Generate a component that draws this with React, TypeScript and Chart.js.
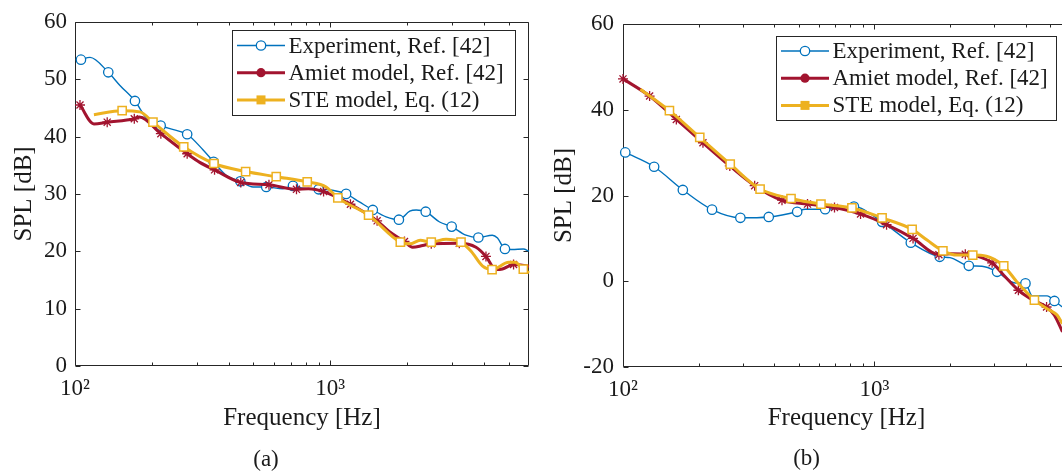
import React, { useEffect, useRef } from 'react';
import { Chart, registerables } from 'chart.js';

Chart.register(...registerables);

// ---- shared axis definitions ----
const xMin = 100;
const xMax = 6000;
const xMajorTicks = [100, 1000];
const xMajorLabels = ['10²', '10³'];
const xMinorTicks = [200, 300, 400, 500, 600, 700, 800, 900, 2000, 3000, 4000, 5000];

const seriesNames = ['Experiment, Ref. [42]', 'Amiet model, Ref. [42]', 'STE model, Eq. (12)'];
const xTitle = 'Frequency [Hz]';
const yTitle = 'SPL [dB]';
const captions = ['(a)', '(b)'];

// ---- panel (a) ----
const expAFreq = [105.5, 114.5, 135, 150, 171.7, 190.8, 216.5, 257, 275, 317, 349, 392, 444, 498, 561, 652, 714, 780, 900, 1030, 1153, 1300, 1467, 1654, 1856, 2047, 2170, 2364, 2680, 2987, 3398, 3800, 4310, 4517, 4830, 5160, 5700, 6000];
const expADb = [53.4, 53.8, 51.2, 48.9, 46.2, 43.2, 41.9, 40.9, 40.4, 37.7, 35.6, 33.2, 32.2, 31.2, 31.2, 30.9, 31.4, 31.0, 30.8, 30.6, 30.0, 28.6, 27.2, 26.0, 25.5, 27.0, 27.2, 26.9, 25.1, 24.3, 22.8, 22.4, 22.8, 22.3, 20.4, 20.3, 20.4, 20.0];
const expAMarks = [0, 2, 4, 6, 8, 10, 12, 14, 16, 18, 20, 22, 24, 27, 29, 31, 34];

const amietAFreq = [104.6, 118.6, 133.7, 170.7, 178.5, 216.9, 275, 308, 352, 446, 575, 737, 820, 941, 1199, 1525, 1705, 1952, 2100, 2300, 2485, 3200, 3720, 4070, 4450, 4720, 5220, 6000];
const amietADb = [45.5, 42.2, 42.5, 43.1, 43.4, 40.5, 37.0, 35.5, 34.2, 32.0, 31.6, 30.8, 30.9, 30.4, 28.2, 25.3, 23.4, 21.7, 20.7, 21.0, 21.3, 21.4, 20.7, 19.1, 16.8, 16.9, 17.7, 17.4];
const amietAMarks = [0, 2, 3, 5, 6, 8, 9, 10, 11, 13, 14, 15, 17, 20, 21, 23, 26];

const steAFreq = [118.6, 153, 179.6, 202, 266.6, 350, 466, 614, 812, 963, 1070, 1412, 1880, 2050, 2250, 2485, 2840, 3250, 3560, 3950, 4300, 5000, 5280, 5700, 6000];
const steADb = [43.8, 44.5, 44.3, 42.5, 38.2, 35.3, 33.9, 33.0, 32.1, 31.2, 29.3, 26.3, 21.6, 21.3, 21.9, 21.6, 22.1, 21.6, 20.0, 17.4, 16.8, 18.1, 18.1, 16.9, 16.2];
const steAMarks = [1, 3, 4, 5, 6, 7, 8, 10, 11, 12, 15, 17, 20, 23];

// ---- panel (b) ----
const expBFreq = [102.1, 133, 173, 226, 293, 380, 493, 530, 637, 700, 829, 1073, 1396, 1819, 2000, 2375, 2680, 3077, 3630, 3990, 4242, 4867, 5203, 5600];
const expBDb = [30.05, 26.7, 21.3, 16.7, 14.8, 15.0, 16.2, 16.8, 16.8, 16.9, 17.4, 13.85, 9.0, 5.7, 5.5, 3.6, 3.5, 2.2, -0.4, -0.5, -3.4, -3.4, -4.6, -6.0];
const expBMarks = [0, 1, 2, 3, 4, 5, 6, 8, 10, 11, 12, 13, 15, 17, 19, 22];

const amietBFreq = [100, 127.6, 163, 208, 266, 334, 429, 542, 694, 881, 1118, 1425, 1806, 2000, 2300, 2570, 2940, 3270, 3740, 4160, 4841, 5200, 5600];
const amietBDb = [47.2, 43.2, 37.75, 32.3, 26.9, 22.3, 18.9, 18.0, 17.2, 15.7, 13.2, 10.0, 6.2, 6.4, 6.3, 5.85, 4.3, 1.4, -2.1, -4.0, -6.0, -7.9, -11.8];
const amietBMarks = [0, 1, 2, 3, 4, 5, 6, 7, 8, 9, 10, 11, 12, 14, 16, 18, 20];

const steBFreq = [117.2, 153, 202, 267, 351, 466, 613, 814, 1073, 1413, 1620, 1873, 2133, 2462, 2790, 3000, 3270, 3690, 4330, 4867, 5330, 5600];
const steBDb = [44.8, 39.8, 33.55, 27.3, 21.5, 19.3, 18.0, 17.1, 14.8, 12.1, 9.6, 7.1, 6.1, 6.1, 5.85, 5.1, 3.6, -0.15, -4.4, -6.4, -7.9, -9.9];
const steBMarks = [1, 2, 3, 4, 5, 6, 7, 8, 9, 11, 13, 16, 18];

// ---- styling ----
const FONT = '"Liberation Serif", "Times New Roman", serif';
const TEXT = '#1a1a1a';
const AXIS = '#262626';
const BLUE = '#0072BD';
const RED = '#A2142F';
const YELLOW = '#EDB120';
const PAGE_W = 1062;
const PAGE_H = 471;
const TICK_MAJOR = 5;
const TICK_MINOR = 3;

type Style = { color: string; width: number; marker: 'circle' | 'star' | 'rect'; radius: number; markerWidth: number; legendMarker: 'openCircle' | 'dot' | 'square' };

const styles: Style[] = [
  { color: BLUE, width: 1.4, marker: 'circle', radius: 4.7, markerWidth: 1.3, legendMarker: 'openCircle' },
  { color: RED, width: 3, marker: 'star', radius: 5, markerWidth: 1.3, legendMarker: 'dot' },
  { color: YELLOW, width: 3, marker: 'rect', radius: 5.8, markerWidth: 1.5, legendMarker: 'square' },
];

const panelSeries = [
  [
    { f: expAFreq, v: expADb, m: expAMarks },
    { f: amietAFreq, v: amietADb, m: amietAMarks },
    { f: steAFreq, v: steADb, m: steAMarks },
  ],
  [
    { f: expBFreq, v: expBDb, m: expBMarks },
    { f: amietBFreq, v: amietBDb, m: amietBMarks },
    { f: steBFreq, v: steBDb, m: steBMarks },
  ],
];

const panelLayouts = [
  {
    canvasLeft: 0, canvasWidth: 540,
    area: { left: 75, right: 529, top: 17, bottom: 366 },
    yMin: 0, yMax: 60, yStep: 10,
    yTitleCenter: 24, xTitleCenter: 418, yTickPad: 8,
    legend: { x: 232.5, y: 30.5, w: 283, h: 85, rows: [45.5, 72.7, 99.9] },
    caption: { x: 266, y: 460 },
  },
  {
    canvasLeft: 530, canvasWidth: 560,
    area: { left: 93, right: 540, top: 24, bottom: 367 },
    yMin: -20, yMax: 60, yStep: 20,
    yTitleCenter: 34, xTitleCenter: 418, yTickPad: 9,
    legend: { x: 246.5, y: 36.5, w: 280, h: 84, rows: [51, 78.2, 105.4] },
    caption: { x: 276.6, y: 459 },
  },
];

// Box around the plot area with inward major/minor tick marks on all sides
function makeFramePlugin() {
  return {
    id: 'axesFrame',
    beforeDatasetsDraw(chart: any) {
      const { ctx, chartArea: a, scales } = chart;
      const xs = scales.x;
      const ys = scales.y;
      const L = Math.round(a.left) + 0.5;
      const R = Math.round(a.right) - 0.5;
      const T = Math.round(a.top) + 0.5;
      const B = Math.round(a.bottom) - 0.5;
      ctx.save();
      ctx.strokeStyle = AXIS;
      ctx.lineWidth = 1;
      ctx.beginPath();
      ctx.rect(L, T, R - L, B - T);
      for (const v of xMajorTicks) {
        const px = Math.round(xs.getPixelForValue(v)) + 0.5;
        ctx.moveTo(px, B); ctx.lineTo(px, B - TICK_MAJOR);
        ctx.moveTo(px, T); ctx.lineTo(px, T + TICK_MAJOR);
      }
      for (const v of xMinorTicks) {
        const px = Math.round(xs.getPixelForValue(v)) + 0.5;
        ctx.moveTo(px, B); ctx.lineTo(px, B - TICK_MINOR);
        ctx.moveTo(px, T); ctx.lineTo(px, T + TICK_MINOR);
      }
      for (const t of ys.ticks) {
        const py = Math.round(ys.getPixelForValue(t.value)) + 0.5;
        ctx.moveTo(L, py); ctx.lineTo(L + TICK_MAJOR, py);
        ctx.moveTo(R, py); ctx.lineTo(R - TICK_MAJOR, py);
      }
      ctx.stroke();
      ctx.restore();
    },
  };
}

// Boxed legend with line samples, plus the panel caption underneath
function makeLegendPlugin(layout: any, caption: string) {
  return {
    id: 'boxLegend',
    afterDatasetsDraw(chart: any) {
      const { ctx } = chart;
      const lg = layout.legend;
      ctx.save();
      ctx.fillStyle = '#ffffff';
      ctx.fillRect(lg.x, lg.y, lg.w, lg.h);
      ctx.strokeStyle = AXIS;
      ctx.lineWidth = 1;
      ctx.strokeRect(lg.x, lg.y, lg.w, lg.h);
      const x0 = lg.x + 4.5;
      const x1 = lg.x + 52.5;
      const xm = (x0 + x1) / 2;
      const xt = lg.x + 56;
      seriesNames.forEach((name, i) => {
        const st = styles[i];
        const y = lg.rows[i];
        ctx.strokeStyle = st.color;
        ctx.lineWidth = st.width;
        ctx.beginPath();
        ctx.moveTo(x0, y);
        ctx.lineTo(x1, y);
        ctx.stroke();
        if (st.legendMarker === 'openCircle') {
          ctx.fillStyle = '#ffffff';
          ctx.lineWidth = 1.3;
          ctx.beginPath();
          ctx.arc(xm, y, 4.7, 0, Math.PI * 2);
          ctx.fill();
          ctx.stroke();
        } else if (st.legendMarker === 'dot') {
          ctx.fillStyle = st.color;
          ctx.beginPath();
          ctx.arc(xm, y, 4.6, 0, Math.PI * 2);
          ctx.fill();
        } else {
          ctx.fillStyle = st.color;
          ctx.fillRect(xm - 4.5, y - 4.5, 9, 9);
        }
        ctx.fillStyle = TEXT;
        ctx.font = `23px ${FONT}`;
        ctx.textAlign = 'left';
        ctx.textBaseline = 'middle';
        ctx.fillText(name, xt, y + 1);
      });
      ctx.fillStyle = TEXT;
      ctx.font = `23px ${FONT}`;
      ctx.textAlign = 'center';
      ctx.textBaseline = 'middle';
      ctx.fillText(caption, layout.caption.x, layout.caption.y);
      ctx.restore();
    },
  };
}

function Panel({ index }: { index: number }) {
  const ref = useRef<HTMLCanvasElement | null>(null);
  const layout = panelLayouts[index];
  useEffect(() => {
    const canvas = ref.current;
    if (!canvas) return;
    const a = layout.area;
    const datasets = panelSeries[index].map((s, i) => {
      const st = styles[i];
      return {
        label: seriesNames[i],
        data: s.f.map((f, k) => ({ x: f, y: s.v[k] })),
        borderColor: st.color,
        borderWidth: st.width,
        backgroundColor: '#ffffff',
        pointStyle: st.marker,
        pointRadius: s.f.map((_, k) => (s.m.includes(k) ? st.radius : 0)),
        pointBorderWidth: st.markerWidth,
        pointBorderColor: st.color,
        pointBackgroundColor: '#ffffff',
        cubicInterpolationMode: 'monotone',
        fill: false,
        clip: false,
        order: 3 - i,
      };
    });
    const chart = new Chart(canvas, {
      type: 'line',
      data: { datasets } as any,
      options: {
        responsive: false,
        animation: false,
        events: [],
        layout: {
          padding: { left: 0, top: a.top, right: layout.canvasWidth - a.right, bottom: 0 },
        },
        plugins: { legend: { display: false }, tooltip: { enabled: false } },
        scales: {
          x: {
            type: 'logarithmic',
            position: 'bottom',
            min: xMin,
            max: xMax,
            grid: { display: false, drawTicks: false },
            border: { display: false },
            afterBuildTicks: (s: any) => {
              s.ticks = xMajorTicks.map((v) => ({ value: v }));
            },
            afterFit: (s: any) => {
              s.height = PAGE_H - a.bottom;
            },
            ticks: {
              autoSkip: false,
              maxRotation: 0,
              padding: 9,
              color: TEXT,
              font: { family: FONT, size: 23 },
              callback: (v: any) => {
                const k = xMajorTicks.indexOf(Number(v));
                return k >= 0 ? xMajorLabels[k] : '';
              },
            },
            title: {
              display: true,
              text: xTitle,
              color: TEXT,
              font: { family: FONT, size: 25 },
              padding: { top: 0, bottom: PAGE_H - layout.xTitleCenter - 15 },
            },
          },
          y: {
            type: 'linear',
            position: 'left',
            min: layout.yMin,
            max: layout.yMax,
            grid: { display: false, drawTicks: false },
            border: { display: false },
            afterFit: (s: any) => {
              s.width = a.left;
            },
            ticks: {
              stepSize: layout.yStep,
              padding: layout.yTickPad,
              color: TEXT,
              font: { family: FONT, size: 23 },
            },
            title: {
              display: true,
              text: yTitle,
              color: TEXT,
              font: { family: FONT, size: 25 },
              padding: { top: layout.yTitleCenter - 15, bottom: 0 },
            },
          },
        },
      } as any,
      plugins: [makeFramePlugin(), makeLegendPlugin(layout, captions[index])],
    });
    return () => chart.destroy();
  }, [index]);
  return (
    <canvas
      ref={ref}
      width={layout.canvasWidth}
      height={PAGE_H}
      style={{ position: 'absolute', left: layout.canvasLeft, top: 0, width: layout.canvasWidth, height: PAGE_H }}
    />
  );
}

export default function App() {
  return (
    <div
      style={{
        position: 'absolute',
        left: 0,
        top: 0,
        width: PAGE_W,
        height: PAGE_H,
        overflow: 'hidden',
        background: '#ffffff',
      }}
    >
      <Panel index={0} />
      <Panel index={1} />
    </div>
  );
}
